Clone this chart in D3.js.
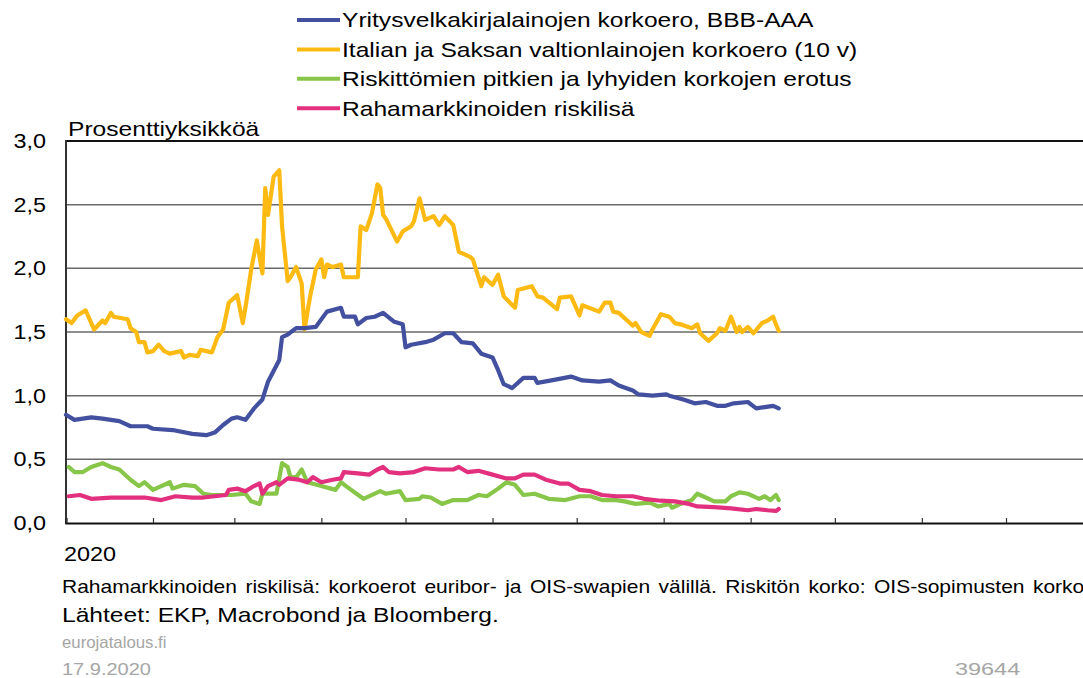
<!DOCTYPE html>
<html>
<head>
<meta charset="utf-8">
<script src="https://cdn.jsdelivr.net/npm/d3@7"></script>
<style>
  body { margin: 0; background: #fff; }
  text { font-family: "Liberation Sans", Arial, sans-serif; }
</style>
</head>
<body>
<svg width="1083" height="678"></svg>
<script>
// series names (legend order) and colours
const seriesNames = [
    "Yritysvelkakirjalainojen korkoero, BBB-AAA",
    "Italian ja Saksan valtionlainojen korkoero (10 v)",
    "Riskittömien pitkien ja lyhyiden korkojen erotus",
    "Rahamarkkinoiden riskilisä"
];
const seriesColors = ["#4350a0", "#fdba12", "#88c64a", "#e2307f"];

const yTicks = [0, 0.5, 1, 1.5, 2, 2.5, 3];

// BBB-AAA corporate bond spread
const corpSpread = [
    ["2020-01-01",0.85],["2020-01-04",0.81],["2020-01-10",0.83],["2020-01-14",0.82],["2020-01-20",0.80],
    ["2020-01-24",0.76],["2020-01-30",0.76],["2020-02-01",0.74],["2020-02-08",0.73],["2020-02-15",0.70],
    ["2020-02-20",0.69],["2020-02-23",0.71],["2020-02-26",0.77],["2020-02-29",0.82],["2020-03-02",0.83],
    ["2020-03-05",0.81],["2020-03-08",0.90],["2020-03-11",0.97],["2020-03-13",1.11],["2020-03-17",1.28],
    ["2020-03-18",1.46],["2020-03-20",1.48],["2020-03-23",1.53],["2020-03-26",1.53],["2020-03-30",1.54],
    ["2020-04-03",1.66],["2020-04-08",1.69],["2020-04-09",1.62],["2020-04-13",1.62],["2020-04-14",1.56],
    ["2020-04-17",1.61],["2020-04-20",1.62],["2020-04-23",1.65],["2020-04-27",1.58],["2020-04-30",1.56],
    ["2020-05-01",1.38],["2020-05-03",1.40],["2020-05-08",1.42],["2020-05-11",1.44],["2020-05-15",1.49],
    ["2020-05-18",1.49],["2020-05-21",1.42],["2020-05-25",1.41],["2020-05-28",1.33],["2020-06-01",1.30],
    ["2020-06-03",1.20],["2020-06-05",1.09],["2020-06-08",1.06],["2020-06-12",1.14],["2020-06-16",1.14],
    ["2020-06-17",1.10],["2020-06-22",1.12],["2020-06-29",1.15],["2020-07-03",1.12],["2020-07-09",1.11],
    ["2020-07-13",1.12],["2020-07-16",1.08],["2020-07-21",1.04],["2020-07-23",1.01],["2020-07-28",1.00],
    ["2020-08-02",1.01],["2020-08-03",1.00],["2020-08-08",0.97],["2020-08-12",0.94],["2020-08-16",0.95],
    ["2020-08-20",0.92],["2020-08-23",0.92],["2020-08-26",0.94],["2020-08-31",0.95],["2020-09-03",0.90],
    ["2020-09-06",0.91],["2020-09-09",0.92],["2020-09-11",0.90]
];

// Italy - Germany 10y spread
const italySpread = [
    ["2020-01-01",1.60],["2020-01-03",1.57],["2020-01-05",1.63],["2020-01-08",1.67],["2020-01-11",1.52],
    ["2020-01-14",1.59],["2020-01-15",1.57],["2020-01-17",1.65],["2020-01-18",1.62],["2020-01-23",1.60],
    ["2020-01-24",1.53],["2020-01-26",1.50],["2020-01-27",1.42],["2020-01-29",1.42],["2020-01-30",1.34],
    ["2020-02-01",1.35],["2020-02-03",1.40],["2020-02-05",1.35],["2020-02-07",1.33],["2020-02-11",1.35],
    ["2020-02-12",1.30],["2020-02-14",1.32],["2020-02-17",1.31],["2020-02-18",1.36],["2020-02-20",1.35],
    ["2020-02-22",1.34],["2020-02-24",1.46],["2020-02-26",1.52],["2020-02-28",1.73],["2020-03-02",1.79],
    ["2020-03-04",1.57],["2020-03-05",1.70],["2020-03-07",1.99],["2020-03-09",2.22],["2020-03-11",1.96],
    ["2020-03-12",2.63],["2020-03-13",2.42],["2020-03-15",2.72],["2020-03-17",2.77],["2020-03-18",2.33],
    ["2020-03-20",1.90],["2020-03-21",1.93],["2020-03-23",2.01],["2020-03-25",1.88],["2020-03-26",1.52],
    ["2020-03-28",1.78],["2020-03-30",1.99],["2020-04-01",2.07],["2020-04-02",1.93],["2020-04-03",2.03],
    ["2020-04-05",2.01],["2020-04-08",2.03],["2020-04-09",1.93],["2020-04-14",1.93],["2020-04-15",2.33],
    ["2020-04-17",2.30],["2020-04-19",2.43],["2020-04-21",2.66],["2020-04-22",2.63],["2020-04-23",2.42],
    ["2020-04-24",2.39],["2020-04-28",2.21],["2020-04-30",2.29],["2020-05-03",2.33],["2020-05-04",2.37],
    ["2020-05-06",2.55],["2020-05-08",2.38],["2020-05-11",2.41],["2020-05-13",2.34],["2020-05-15",2.41],
    ["2020-05-18",2.34],["2020-05-20",2.13],["2020-05-24",2.09],["2020-05-25",2.07],["2020-05-28",1.86],
    ["2020-05-29",1.93],["2020-06-01",1.87],["2020-06-03",1.95],["2020-06-05",1.78],["2020-06-09",1.69],
    ["2020-06-10",1.83],["2020-06-15",1.86],["2020-06-17",1.78],["2020-06-19",1.77],["2020-06-24",1.68],
    ["2020-06-25",1.77],["2020-06-29",1.78],["2020-07-02",1.63],["2020-07-03",1.71],["2020-07-09",1.66],
    ["2020-07-11",1.73],["2020-07-13",1.73],["2020-07-14",1.66],["2020-07-16",1.65],["2020-07-19",1.59],
    ["2020-07-21",1.55],["2020-07-22",1.57],["2020-07-24",1.50],["2020-07-27",1.47],["2020-07-28",1.52],
    ["2020-07-31",1.64],["2020-08-03",1.62],["2020-08-05",1.57],["2020-08-07",1.56],["2020-08-11",1.53],
    ["2020-08-13",1.56],["2020-08-14",1.49],["2020-08-17",1.43],["2020-08-20",1.49],["2020-08-21",1.53],
    ["2020-08-23",1.51],["2020-08-25",1.62],["2020-08-27",1.50],["2020-08-28",1.54],["2020-08-29",1.50],
    ["2020-08-31",1.54],["2020-09-02",1.49],["2020-09-05",1.57],["2020-09-07",1.59],["2020-09-09",1.62],
    ["2020-09-10",1.56],["2020-09-11",1.51]
];

// long minus short risk-free rates
const termSpread = [
    ["2020-01-02",0.44],["2020-01-04",0.40],["2020-01-07",0.40],["2020-01-10",0.44],["2020-01-14",0.47],
    ["2020-01-17",0.44],["2020-01-20",0.42],["2020-01-24",0.34],["2020-01-27",0.29],["2020-01-29",0.32],
    ["2020-02-01",0.26],["2020-02-07",0.32],["2020-02-08",0.27],["2020-02-12",0.30],["2020-02-16",0.29],
    ["2020-02-19",0.23],["2020-02-22",0.22],["2020-02-29",0.22],["2020-03-05",0.23],["2020-03-07",0.17],
    ["2020-03-10",0.15],["2020-03-11",0.23],["2020-03-16",0.23],["2020-03-18",0.47],["2020-03-20",0.44],
    ["2020-03-21",0.36],["2020-03-23",0.36],["2020-03-25",0.42],["2020-03-27",0.32],["2020-04-01",0.29],
    ["2020-04-06",0.26],["2020-04-08",0.32],["2020-04-11",0.27],["2020-04-16",0.19],["2020-04-22",0.25],
    ["2020-04-24",0.23],["2020-04-29",0.25],["2020-05-01",0.18],["2020-05-06",0.19],["2020-05-07",0.21],
    ["2020-05-10",0.20],["2020-05-14",0.15],["2020-05-18",0.18],["2020-05-23",0.18],["2020-05-27",0.22],
    ["2020-05-30",0.21],["2020-06-03",0.27],["2020-06-06",0.32],["2020-06-09",0.30],["2020-06-12",0.22],
    ["2020-06-16",0.23],["2020-06-21",0.19],["2020-06-27",0.18],["2020-07-02",0.21],["2020-07-06",0.21],
    ["2020-07-10",0.18],["2020-07-15",0.18],["2020-07-18",0.17],["2020-07-22",0.15],["2020-07-27",0.16],
    ["2020-07-30",0.13],["2020-08-03",0.15],["2020-08-04",0.12],["2020-08-07",0.15],["2020-08-11",0.18],
    ["2020-08-13",0.23],["2020-08-16",0.20],["2020-08-19",0.17],["2020-08-23",0.17],["2020-08-25",0.21],
    ["2020-08-28",0.24],["2020-08-31",0.23],["2020-09-04",0.19],["2020-09-06",0.21],["2020-09-08",0.18],
    ["2020-09-10",0.22],["2020-09-11",0.18]
];

// money market risk premium
const moneyPremium = [
    ["2020-01-02",0.21],["2020-01-06",0.22],["2020-01-10",0.19],["2020-01-17",0.20],["2020-01-29",0.20],
    ["2020-02-04",0.18],["2020-02-09",0.21],["2020-02-15",0.20],["2020-02-19",0.20],["2020-02-27",0.22],
    ["2020-02-28",0.26],["2020-03-02",0.27],["2020-03-05",0.25],["2020-03-08",0.29],["2020-03-10",0.31],
    ["2020-03-11",0.23],["2020-03-13",0.29],["2020-03-16",0.32],["2020-03-17",0.30],["2020-03-20",0.35],
    ["2020-03-24",0.34],["2020-03-27",0.32],["2020-03-29",0.36],["2020-04-01",0.32],["2020-04-05",0.34],
    ["2020-04-08",0.35],["2020-04-09",0.40],["2020-04-14",0.39],["2020-04-18",0.38],["2020-04-21",0.42],
    ["2020-04-23",0.44],["2020-04-25",0.40],["2020-04-29",0.39],["2020-05-04",0.40],["2020-05-08",0.43],
    ["2020-05-13",0.42],["2020-05-18",0.42],["2020-05-20",0.44],["2020-05-23",0.40],["2020-05-27",0.41],
    ["2020-06-01",0.38],["2020-06-06",0.35],["2020-06-09",0.35],["2020-06-12",0.38],["2020-06-16",0.38],
    ["2020-06-20",0.34],["2020-06-25",0.31],["2020-06-28",0.31],["2020-07-02",0.26],["2020-07-06",0.25],
    ["2020-07-10",0.22],["2020-07-15",0.21],["2020-07-21",0.21],["2020-07-25",0.19],["2020-07-31",0.175],
    ["2020-08-05",0.17],["2020-08-10",0.15],["2020-08-13",0.13],["2020-08-19",0.125],["2020-08-25",0.115],
    ["2020-08-31",0.10],["2020-09-03",0.11],["2020-09-07",0.10],["2020-09-10",0.095],["2020-09-11",0.11]
];

const allSeries = [corpSpread, italySpread, termSpread, moneyPremium];
// drawing order: yellow, blue, green, pink on top
const drawOrder = [1, 0, 2, 3];

const svg = d3.select("svg");
const margin = {top: 141, left: 66, bottom: 155};
const plotRight = 1093;
const height = 678 - margin.top - margin.bottom;
const SX = 1.2; // horizontal stretch of the text in the original

const parse = d3.timeParse("%Y-%m-%d");

const xScale = d3.scaleTime()
    .domain([new Date(2020, 0, 1), new Date(2021, 0, 1)])
    .range([margin.left, plotRight]);

const yScale = d3.scaleLinear()
    .domain([0, 3])
    .range([margin.top + height, margin.top]);

function label(x, y, str, size, opts = {}) {
    const sx = opts.sx || SX;
    const t = svg.append("text")
        .attr("transform", `translate(${x},${y}) scale(${sx},1)`)
        .attr("font-size", size)
        .attr("fill", opts.fill || "#000")
        .attr("text-anchor", opts.anchor || "start")
        .text(str);
    if (opts.dy) t.attr("dy", opts.dy);
    if (opts.wordSpacing) t.attr("word-spacing", opts.wordSpacing);
    return t;
}

// gridlines
svg.append("g")
    .selectAll("line")
    .data(yTicks.filter(v => v > 0 && v < 3))
    .join("line")
    .attr("x1", margin.left).attr("x2", 1083)
    .attr("y1", d => yScale(d)).attr("y2", d => yScale(d))
    .attr("stroke", "#6a6a6a")
    .attr("stroke-width", 1.5);

// top frame
svg.append("line")
    .attr("x1", margin.left).attr("x2", 1083)
    .attr("y1", yScale(3)).attr("y2", yScale(3))
    .attr("stroke", "#111").attr("stroke-width", 2);

// left axis line
svg.append("line")
    .attr("x1", margin.left).attr("x2", margin.left)
    .attr("y1", yScale(3) - 1).attr("y2", yScale(0) + 1)
    .attr("stroke", "#333").attr("stroke-width", 2);

// y labels
const fmt = d3.format(".1f");
yTicks.forEach(v => {
    label(46, yScale(v), fmt(v).replace(".", ","), 19.5, {anchor: "end", dy: "0.36em"});
});

// x axis with month ticks pointing inward
const xAxis = d3.axisBottom(xScale)
    .ticks(d3.timeMonth.every(1))
    .tickSize(-5)
    .tickFormat("");

const xg = svg.append("g")
    .attr("transform", `translate(0,${yScale(0)})`)
    .call(xAxis);
xg.select(".domain").attr("stroke", "#111").attr("stroke-width", 2);
xg.selectAll(".tick line").attr("stroke", "#333").attr("stroke-width", 1.2);

// lines
const line = d3.line()
    .x(d => xScale(parse(d[0])))
    .y(d => yScale(d[1]))
    .curve(d3.curveLinear);

drawOrder.forEach(i => {
    svg.append("path")
        .datum(allSeries[i])
        .attr("fill", "none")
        .attr("stroke", seriesColors[i])
        .attr("stroke-width", 4.2)
        .attr("stroke-linejoin", "round")
        .attr("stroke-linecap", "round")
        .attr("d", line);
});

// legend
seriesNames.forEach((name, i) => {
    const cy = 20 + i * 29.4;
    svg.append("line")
        .attr("x1", 297).attr("x2", 340)
        .attr("y1", cy).attr("y2", cy)
        .attr("stroke", seriesColors[i])
        .attr("stroke-width", 4);
    label(342, cy, name, 20.5, {dy: "0.36em"});
});

// unit label
label(68, 136, "Prosenttiyksikköä", 20.5);

// year label
label(64, 561, "2020", 19.5);

// notes
label(62, 593, "Rahamarkkinoiden riskilisä: korkoerot euribor- ja OIS-swapien välillä. Riskitön korko: OIS-sopimusten korko", 17.5, {wordSpacing: 2.2});
label(62, 622, "Lähteet: EKP, Macrobond ja Bloomberg.", 20.5);
label(62, 648, "eurojatalous.fi", 16, {fill: "#a6a6a6", sx: 1.05});
label(62, 675, "17.9.2020", 16, {fill: "#a6a6a6", sx: 1.25});
label(955, 675, "39644", 17, {fill: "#a6a6a6", sx: 1.38});
</script>
</body>
</html>
